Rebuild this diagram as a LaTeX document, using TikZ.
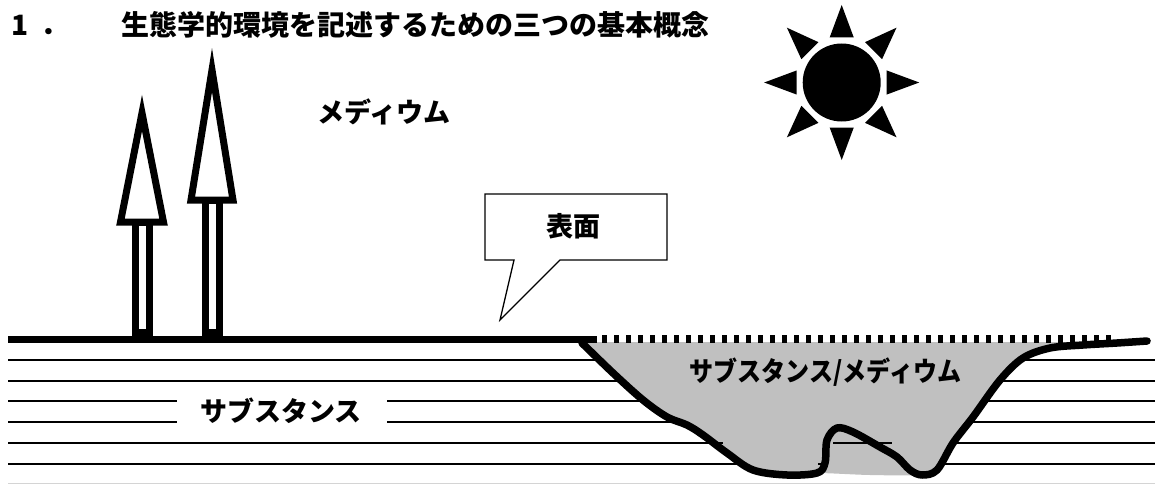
\documentclass[tikz,border=0pt]{standalone}
\usepackage{fontspec}
\newfontfamily\jp{Noto Sans CJK JP}
\usetikzlibrary{calc}
\definecolor{pondgrey}{HTML}{C0C0C0}
\definecolor{edgegrey}{HTML}{D4D4D4}

\begin{document}
\begin{tikzpicture}[x=1pt,y=-1pt,
  jptext/.style={font=\jp\bfseries\fontsize{27}{27}\selectfont, inner sep=0pt, anchor=base},
  headtext/.style={font=\jp\bfseries\fontsize{28}{28}\selectfont, inner sep=0pt, anchor=base west},
  stratum/.style={line width=1.8pt},
  treepart/.style={line width=7pt, line join=miter, fill=white},
  ground/.style={line width=7pt},
  shoreline/.style={line width=7.5pt, line cap=round, line join=round},
  bubble/.style={line width=1.3pt, fill=white, line join=miter}]
\useasboundingbox (0,0) rectangle (1155,484);

% title
\node[headtext] (num) at (11,35.5) {1\hspace{12pt}．};
\node[headtext] (title) at (121.5,35.5) {生態学的環境を記述するための三つの基本概念};

% strata lines of the substance
\foreach \yy in {360,381,443,464}
  \draw[stratum] (8,\yy) -- (1155,\yy);
\foreach \yy in {401,422}{
  \draw[stratum] (8,\yy) -- (177,\yy);
  \draw[stratum] (387,\yy) -- (1155,\yy);
}
\draw[edgegrey, line width=1.5pt] (8,483.5) -- (1155,483.5);

% pond (substance / medium) fill
\fill[pondgrey] plot[smooth, tension=.55] coordinates {
  (582,343) (613,373) (643,400) (667,417) (687,425) (703,435) (727,453)
  (753,470) (787,475) (817,473) (870,475) (922,475) (937,470) (953,443)
  (973,417) (1000,380) (1023,358) (1050,348) (1083,345) (1117,343)}
  -- (1117,342) -- (582,342) -- cycle;

% stray strata pieces over the pond
\draw[stratum] (700,443) -- (723,443);
\draw[stratum] (833,443) -- (892,443);
\draw[stratum] (818,464) -- (828,464);

% pond outline
\draw[shoreline] plot[smooth, tension=.55] coordinates {
  (582,343) (613,373) (643,400) (667,417) (687,425) (703,435) (727,453)
  (753,470) (787,475) (817,473) (825,463) (827,440) (837,428) (853,432)
  (880,447) (897,457) (910,470) (922,475) (937,470) (953,443) (973,417)
  (1000,380) (1023,358) (1050,348) (1083,345) (1117,343) (1147,341)};

% surface: solid ground and dotted water surface
\draw[ground] (8,339) -- (597,339);
\draw[line width=7.5pt, dash pattern=on 5pt off 7pt] (602,339) -- (1114,339);

% trees
\draw[treepart] (135.3,222) rectangle (149.1,332);
\draw[treepart] (142,113) -- (163.5,222) -- (120.5,222) -- cycle;
\draw[treepart] (205,200) rectangle (219,332);
\draw[treepart] (212,70) -- (233,200) -- (191,200) -- cycle;

% sun
\coordinate (sun) at (841.7,82.5);
\fill (sun) circle (39);
\foreach \a in {0,45,...,315}
  \fill ($(sun)+(\a:77.5)$) -- ($(sun)+(\a+15:46.6)$) -- ($(sun)+(\a-15:46.6)$) -- cycle;

% callout
\draw[bubble] (485,194) -- (667,194) -- (667,260) -- (560,260) -- (500,320)
  -- (514,260) -- (485,260) -- cycle;
\node[jptext] (surface) at (573,236.5) {表面};

% labels
\node[jptext] (medium) at (384.3,122) {メディウム};
\node[jptext] (substance) at (281,421.5) {サブスタンス};
\node[jptext] (pond) at (825.5,381) {\scalebox{0.89}[1]{サブスタンス/メディウム}};
\end{tikzpicture}
\end{document}
